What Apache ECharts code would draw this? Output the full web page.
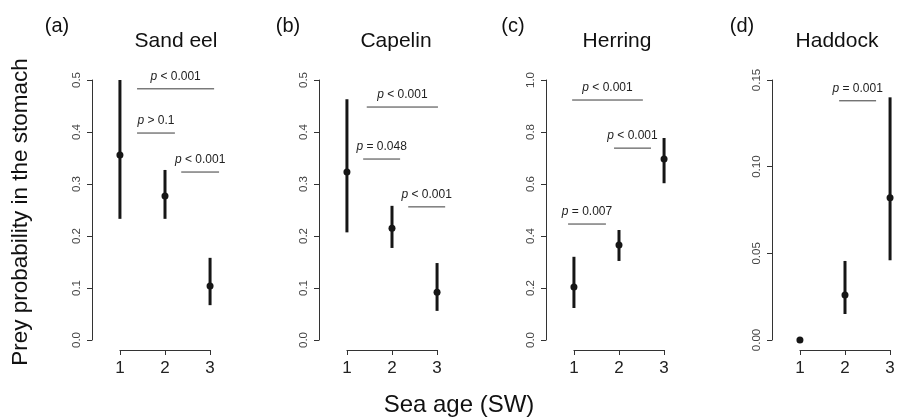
<!DOCTYPE html>
<html>
<head>
<meta charset="utf-8">
<script src="https://cdn.jsdelivr.net/npm/echarts@6/dist/echarts.min.js"></script>
<style>
  html, body { margin: 0; padding: 0; background: #fff; }
  #chart { width: 906px; height: 420px; }
</style>
</head>
<body>
<div id="chart"></div>
<script>
// sea age classes (x)
const ages = [1, 2, 3];

// prey probability: estimate, lower and upper CI
const sandEelMean = [0.356, 0.277, 0.104];
const sandEelLow = [0.233, 0.233, 0.067];
const sandEelHigh = [0.5, 0.327, 0.158];

const capelinMean = [0.323, 0.215, 0.092];
const capelinLow = [0.207, 0.177, 0.056];
const capelinHigh = [0.463, 0.258, 0.148];

const herringMean = [0.204, 0.365, 0.696];
const herringLow = [0.123, 0.304, 0.603];
const herringHigh = [0.32, 0.423, 0.777];

const haddockMean = [0, 0.026, 0.082];
const haddockLow = [0, 0.015, 0.046];
const haddockHigh = [0, 0.0456, 0.14];

// pairwise tests: [from x, to x, y, label]
const sandEelTests = [[1.38, 3.09, 0.483, 'p < 0.001'], [1.38, 2.22, 0.398, 'p > 0.1'], [2.36, 3.2, 0.323, 'p < 0.001']];
const capelinTests = [[1.44, 3.02, 0.448, 'p < 0.001'], [1.36, 2.18, 0.348, 'p = 0.048'], [2.36, 3.18, 0.256, 'p < 0.001']];
const herringTests = [[0.96, 2.53, 0.923, 'p < 0.001'], [1.89, 2.71, 0.738, 'p < 0.001'], [0.87, 1.71, 0.446, 'p = 0.007']];
const haddockTests = [[1.87, 2.69, 0.138, 'p = 0.001']];

const panelTitles = ['Sand eel', 'Capelin', 'Herring', 'Haddock'];
const panelTags = ['(a)', '(b)', '(c)', '(d)'];
const yMax = [0.5, 0.5, 1.0, 0.15];
const yStep = [0.1, 0.1, 0.2, 0.05];
const yDigits = [1, 1, 1, 2];

const panels = [
  { mean: sandEelMean, low: sandEelLow, high: sandEelHigh, tests: sandEelTests },
  { mean: capelinMean, low: capelinLow, high: capelinHigh, tests: capelinTests },
  { mean: herringMean, low: herringLow, high: herringHigh, tests: herringTests },
  { mean: haddockMean, low: haddockLow, high: haddockHigh, tests: haddockTests }
];

// layout
const offsets = [0, 227, 454, 680];
const titleX = [176, 396, 617, 837];
const tagX = [57, 288, 513, 742];
const xLo = 0.38, xHi = 3.3;
const pxPerUnit = 45.06;

const grid = [], xAxis = [], yAxis = [], series = [], graphic = [];

panels.forEach(function (p, i) {
  const off = offsets[i];
  // plotting region (kept inside the canvas for the last panel)
  grid.push({ left: 92 + off, top: 80, width: (xHi - xLo) * pxPerUnit, height: 260 });
  // separate x axis spanning 1..3 only
  grid.push({ left: 92 + off + (1 - xLo) * pxPerUnit, top: 349, width: 2 * pxPerUnit, height: 1 });

  xAxis.push({ gridIndex: 2 * i, type: 'value', min: xLo, max: xHi, show: false });
  xAxis.push({
    gridIndex: 2 * i + 1, type: 'value', min: 1, max: 3, interval: 1,
    axisLine: { show: true, lineStyle: { color: '#333', width: 1 } },
    axisTick: { show: true, length: 5, lineStyle: { color: '#333' } },
    axisLabel: { fontSize: 17, color: '#222', margin: 10, fontFamily: 'Liberation Sans' },
    splitLine: { show: false }
  });

  yAxis.push({
    gridIndex: 2 * i, type: 'value', min: 0, max: yMax[i], interval: yStep[i],
    axisLine: { show: true, lineStyle: { color: '#333', width: 1 } },
    axisTick: { show: true, length: 5, lineStyle: { color: '#333' } },
    axisLabel: {
      rotate: 90, fontSize: 11.5, color: '#444', margin: 9, fontFamily: 'Liberation Sans',
      formatter: function (v) { return v.toFixed(yDigits[i]); }
    },
    splitLine: { show: false }
  });
  yAxis.push({ gridIndex: 2 * i + 1, type: 'value', show: false, min: 0, max: 1 });

  // estimates with confidence intervals
  series.push({
    type: 'custom',
    xAxisIndex: 2 * i, yAxisIndex: 2 * i,
    encode: { x: 0, y: 1 },
    data: ages.map(function (a, j) { return [a, p.mean[j], p.low[j], p.high[j]]; }),
    renderItem: function (params, api) {
      const c = api.coord([api.value(0), api.value(1)]);
      const lo = api.coord([api.value(0), api.value(2)]);
      const hi = api.coord([api.value(0), api.value(3)]);
      return {
        type: 'group',
        children: [
          { type: 'line', shape: { x1: lo[0], y1: lo[1], x2: hi[0], y2: hi[1] },
            style: { stroke: '#161616', lineWidth: 3 } },
          { type: 'circle', shape: { cx: c[0], cy: c[1], r: 3.5 },
            style: { fill: '#161616' } }
        ]
      };
    }
  });

  // p-value brackets
  series.push({
    type: 'custom',
    xAxisIndex: 2 * i, yAxisIndex: 2 * i,
    encode: { x: [0, 1], y: 2 },
    data: p.tests.map(function (t) { return [t[0], t[1], t[2]]; }),
    renderItem: function (params, api) {
      const a = api.coord([api.value(0), api.value(2)]);
      const b = api.coord([api.value(1), api.value(2)]);
      const label = p.tests[params.dataIndex][3];
      return {
        type: 'group',
        children: [
          { type: 'line', shape: { x1: a[0], y1: a[1], x2: b[0], y2: b[1] },
            style: { stroke: '#3a3a3a', lineWidth: 1 } },
          { type: 'text',
            style: {
              x: (a[0] + b[0]) / 2, y: a[1] - 6,
              text: label.replace(/^p/, '{i|p}'),
              align: 'center', verticalAlign: 'bottom',
              fontSize: 12, fontFamily: 'Liberation Sans', fill: '#222',
              rich: { i: { fontStyle: 'italic', fontSize: 12, fontFamily: 'Liberation Sans', fill: '#222' } }
            } }
        ]
      };
    }
  });

  graphic.push({
    type: 'text', x: titleX[i], y: 41,
    style: { text: panelTitles[i], fontSize: 21, fontFamily: 'Liberation Sans', fill: '#111',
      align: 'center', verticalAlign: 'middle' }
  });
  graphic.push({
    type: 'text', x: tagX[i], y: 26,
    style: { text: panelTags[i], fontSize: 20, fontFamily: 'Liberation Sans', fill: '#111',
      align: 'center', verticalAlign: 'middle' }
  });
});

graphic.push({
  type: 'text', x: 21, y: 212, rotation: Math.PI / 2,
  style: { text: 'Prey probability in the stomach', fontSize: 22.5, fontFamily: 'Liberation Sans',
    fill: '#111', align: 'center', verticalAlign: 'middle' }
});
graphic.push({
  type: 'text', x: 459, y: 405,
  style: { text: 'Sea age (SW)', fontSize: 24, fontFamily: 'Liberation Sans',
    fill: '#111', align: 'center', verticalAlign: 'middle' }
});

const chart = echarts.init(document.getElementById('chart'));
chart.setOption({
  animation: false,
  grid: grid,
  xAxis: xAxis,
  yAxis: yAxis,
  series: series,
  graphic: graphic
});
</script>
</body>
</html>
